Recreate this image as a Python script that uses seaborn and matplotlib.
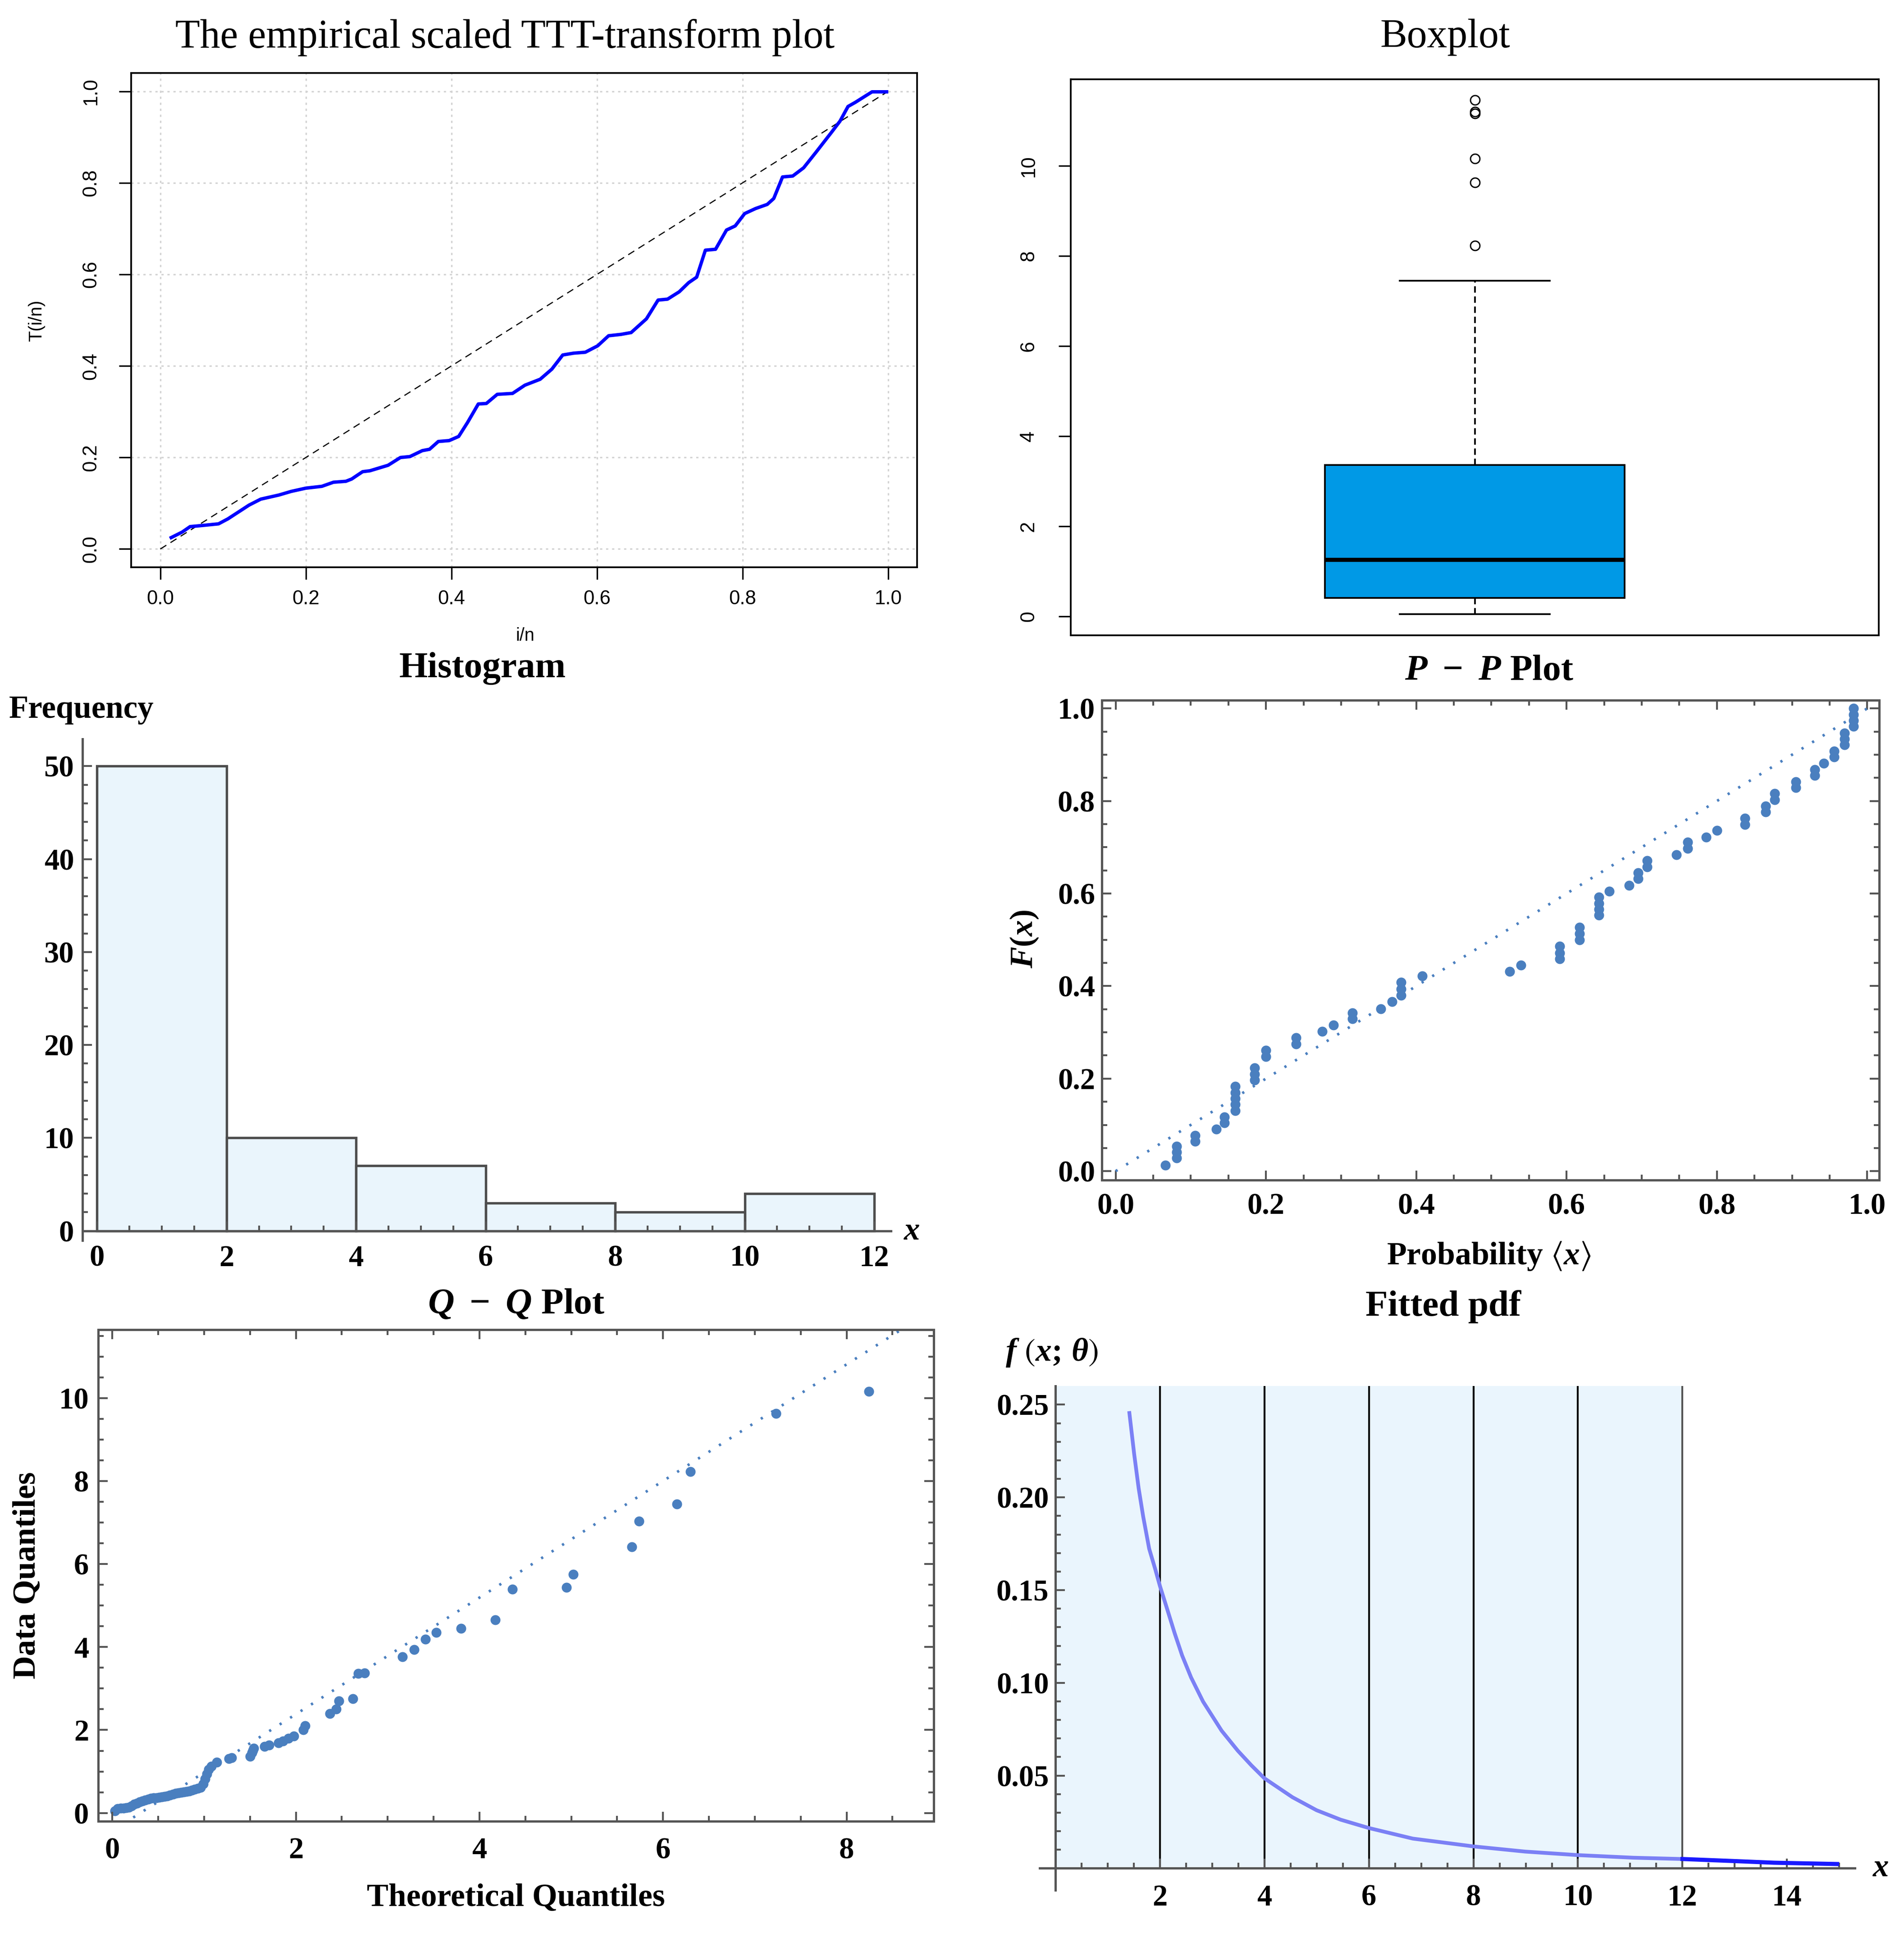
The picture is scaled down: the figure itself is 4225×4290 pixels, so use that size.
import numpy as np
import pandas as pd
import matplotlib
matplotlib.use("Agg")
import matplotlib.pyplot as plt
import seaborn as sns

# ---------------- data ----------------
# sorted sample (76 values) - drives histogram, boxplot and Q-Q data quantiles
sample = [0.055, 0.10, 0.11, 0.12, 0.13, 0.14, 0.17, 0.21, 0.24, 0.27,
          0.29, 0.31, 0.33, 0.35, 0.36, 0.37, 0.38, 0.39, 0.40, 0.41,
          0.43, 0.45, 0.47, 0.49, 0.50, 0.51, 0.52, 0.53, 0.55, 0.57,
          0.59, 0.62, 0.70, 0.82, 0.94, 1.05, 1.13, 1.22,
          1.31, 1.33, 1.36, 1.45, 1.51, 1.56, 1.60, 1.64, 1.69, 1.73, 1.80, 1.85,
          2.01, 2.10, 2.40, 2.51, 2.70, 2.76, 3.36, 3.37, 3.77, 3.94,
          4.19, 4.35, 4.45, 4.66, 5.39, 5.44, 5.75,
          6.42, 7.04, 7.45,
          8.23, 9.63,
          10.16, 11.16, 11.20, 11.46]

hist_bins = [0, 2, 4, 6, 8, 10, 12]

# Q-Q plot: theoretical quantiles for the first 73 sorted values
qq_theory = [0.03, 0.06, 0.09, 0.12, 0.15, 0.18, 0.21, 0.24, 0.27, 0.30,
             0.33, 0.36, 0.39, 0.42, 0.45, 0.48, 0.51, 0.54, 0.57, 0.60,
             0.63, 0.66, 0.69, 0.72, 0.75, 0.78, 0.81, 0.84, 0.87, 0.90,
             0.93, 0.96, 0.99, 1.01, 1.03, 1.05, 1.08, 1.14,
             1.27, 1.30, 1.50, 1.52, 1.53, 1.54, 1.66, 1.71, 1.81, 1.86, 1.92, 1.98,
             2.08, 2.10, 2.37, 2.44, 2.47, 2.62, 2.68, 2.75, 3.16, 3.29,
             3.41, 3.53, 3.80, 4.17, 4.36, 4.95, 5.02,
             5.66, 5.74, 6.15,
             6.30, 7.23,
             8.24]
qq_data = sample[:len(qq_theory)]
qq_ref_x = [0.0, 9.0]
qq_ref_y = [-0.43, 12.22]

# empirical scaled TTT transform
ttt_x = [0.015, 0.03, 0.041, 0.055, 0.08, 0.093, 0.122, 0.138, 0.163, 0.18,
         0.2, 0.222, 0.238, 0.255, 0.263, 0.278, 0.288, 0.313, 0.33, 0.343,
         0.36, 0.37, 0.382, 0.397, 0.41, 0.422, 0.437, 0.448, 0.463, 0.484,
         0.501, 0.522, 0.538, 0.553, 0.568, 0.584, 0.601, 0.616, 0.633, 0.647,
         0.668, 0.684, 0.697, 0.713, 0.726, 0.737, 0.749, 0.763, 0.778, 0.79,
         0.803, 0.818, 0.834, 0.843, 0.855, 0.869, 0.884, 0.901, 0.923, 0.934,
         0.945, 0.955, 0.978, 0.998]
ttt_y = [0.025, 0.037, 0.049, 0.051, 0.055, 0.066, 0.096, 0.109, 0.118, 0.126,
         0.133, 0.137, 0.146, 0.148, 0.153, 0.169, 0.171, 0.183, 0.2, 0.202,
         0.215, 0.218, 0.235, 0.237, 0.246, 0.276, 0.317, 0.318, 0.338, 0.34,
         0.358, 0.371, 0.393, 0.424, 0.428, 0.43, 0.444, 0.466, 0.469, 0.473,
         0.503, 0.544, 0.546, 0.562, 0.582, 0.594, 0.653, 0.655, 0.697, 0.706,
         0.733, 0.744, 0.753, 0.766, 0.813, 0.815, 0.833, 0.867, 0.912, 0.935,
         0.967, 0.976, 0.999, 0.999]
diag = [0.0, 1.0]

# P-P plot
pp_x = [0.066, 0.081, 0.081, 0.081, 0.106, 0.106, 0.134, 0.145, 0.145,
        0.159, 0.159, 0.159, 0.159, 0.159, 0.185, 0.185, 0.185, 0.200, 0.200,
        0.240, 0.240, 0.275, 0.290, 0.315, 0.315, 0.353, 0.368,
        0.380, 0.380, 0.380, 0.408, 0.524, 0.539, 0.591, 0.591, 0.591,
        0.617, 0.617, 0.617, 0.643, 0.643, 0.643, 0.643, 0.657, 0.683,
        0.695, 0.695, 0.707, 0.707, 0.746, 0.761, 0.761, 0.786, 0.800,
        0.837, 0.837, 0.865, 0.865, 0.877, 0.877, 0.905, 0.905, 0.930, 0.930,
        0.942, 0.956, 0.956, 0.970, 0.970, 0.970, 0.982, 0.982, 0.982, 0.982]
pp_y = [0.013, 0.028, 0.041, 0.054, 0.064, 0.077, 0.091, 0.104, 0.117,
        0.131, 0.144, 0.157, 0.170, 0.183, 0.197, 0.210, 0.223, 0.248, 0.261,
        0.275, 0.288, 0.302, 0.316, 0.329, 0.342, 0.351, 0.366,
        0.380, 0.394, 0.408, 0.422, 0.432, 0.445, 0.459, 0.472, 0.486,
        0.500, 0.513, 0.527, 0.553, 0.566, 0.579, 0.592, 0.605, 0.618,
        0.632, 0.645, 0.658, 0.671, 0.684, 0.697, 0.711, 0.722, 0.736,
        0.749, 0.763, 0.776, 0.789, 0.803, 0.816, 0.829, 0.842, 0.855, 0.868,
        0.882, 0.895, 0.908, 0.921, 0.934, 0.947, 0.961, 0.974, 0.987, 1.000]

# fitted pdf curve
pdf_x = [1.415, 1.507, 1.593, 1.679, 1.794, 1.908, 2.0, 2.138, 2.281, 2.424,
         2.596, 2.825, 3.18, 3.49, 3.75, 4.0, 4.537, 4.998, 5.459, 6.0, 6.84,
         8.0, 8.99, 10.0, 11.06, 12.0, 12.98, 13.75, 14.96]
pdf_y = [0.2455, 0.2233, 0.2048, 0.1897, 0.1723, 0.1615, 0.1522, 0.1398, 0.1268,
         0.1148, 0.1029, 0.0899, 0.0742, 0.0634, 0.0555, 0.0485, 0.0383, 0.0313,
         0.0262, 0.0217, 0.0160, 0.0118, 0.0090, 0.0071, 0.0057, 0.0050, 0.0039,
         0.0030, 0.0023]

# ---------------- style ----------------
plt.rcParams.update({
    'mathtext.fontset': 'custom',
    'mathtext.rm': 'Liberation Serif:bold',
    'mathtext.it': 'Liberation Serif:italic:bold',
    'mathtext.bf': 'Liberation Serif:bold',
    'mathtext.fallback': 'stix',
    'lines.scale_dashes': False,
})
SERIF = 'Liberation Serif'
SANS = 'Liberation Sans'
MGRAY = '#555555'
DOT = '#4a7fbf'
TICK_FS = 16
LAB_FS = 17.2
TITLE_FS = 19.5
R_TICK_FS = 10.5

fig = plt.figure(figsize=(4225 / 300, 4290 / 300), dpi=300)


def r_axis(ax, yticks, ylabels, pad_y):
    for s in ax.spines.values():
        s.set_color('black')
        s.set_linewidth(0.9)
    ax.set_yticks(yticks, labels=ylabels, fontfamily=SANS, fontsize=R_TICK_FS,
                  rotation=90, va='center')
    ax.tick_params(axis='both', direction='out', length=6.5, width=0.8)
    ax.tick_params(axis='y', pad=pad_y)


def mma_ticks(ax, xt, xl, yt, yl, xminor, yminor, xpad, ypad, frame=True):
    ax.set_xticks(xt, labels=xl, fontfamily=SERIF, fontweight='bold', fontsize=TICK_FS)
    ax.set_yticks(yt, labels=yl, fontfamily=SERIF, fontweight='bold', fontsize=TICK_FS)
    ax.set_xticks(xminor, minor=True)
    ax.set_yticks(yminor, minor=True)
    ax.tick_params(which='both', direction='in', color=MGRAY, width=1.0,
                   top=frame, right=frame)
    ax.tick_params(which='major', length=5)
    ax.tick_params(which='minor', length=2.8)
    ax.tick_params(axis='x', pad=xpad)
    ax.tick_params(axis='y', pad=ypad)
    for s in ax.spines.values():
        s.set_color(MGRAY)
        s.set_linewidth(1.2)


# ---- panel 1: TTT ----
ax1 = fig.add_axes([0.0689, 0.7065, 0.4128, 0.2557])
sns.lineplot(x=diag, y=diag, ax=ax1, color='black', linewidth=0.6,
             linestyle=(0, (3.8, 2.6)))
sns.lineplot(x=ttt_x, y=ttt_y, ax=ax1, color='blue', linewidth=1.8,
             estimator=None, sort=False)
ax1.set_xlim(-0.04, 1.04)
ax1.set_ylim(-0.04, 1.04)
t01 = [0.0, 0.2, 0.4, 0.6, 0.8, 1.0]
l01 = ['0.0', '0.2', '0.4', '0.6', '0.8', '1.0']
ax1.set_xticks(t01, labels=l01, fontfamily=SANS, fontsize=R_TICK_FS)
r_axis(ax1, t01, l01, pad_y=10)
ax1.tick_params(axis='x', pad=5.5)
ax1.grid(True, color='#d3d3d3', linestyle=(0, (1.2, 2.0)), linewidth=0.8)
ax1.set_axisbelow(True)
ax1.set_xlabel('')
ax1.set_ylabel('')
fig.text(0.2653, 0.9806, 'The empirical scaled TTT-transform plot', ha='center',
         va='center', fontfamily=SERIF, fontsize=21.5)
fig.text(0.2758, 0.671, 'i/n', ha='center', va='center', fontfamily=SANS, fontsize=9.5)
fig.text(0.0191, 0.834, 'T(i/n)', ha='center', va='center', rotation=90,
         fontfamily=SANS, fontsize=9.5)

# ---- panel 2: boxplot ----
ax2 = fig.add_axes([0.5624, 0.6713, 0.4244, 0.2876])
sns.boxplot(y=sample, ax=ax2, color='#0099E6', saturation=1, width=0.8, whis=1.5,
            linecolor='black', linewidth=0.9, fliersize=5,
            flierprops=dict(marker='o', markerfacecolor='none',
                            markeredgecolor='black', markeredgewidth=0.7),
            medianprops=dict(linewidth=2.2, color='black'),
            whiskerprops=dict(linestyle=(0, (3.4, 2.0))))
ax2.set_xlim(-1.078, 1.078)
ax2.set_ylim(-0.42, 11.92)
ax2.set_xticks([])
r_axis(ax2, [0, 2, 4, 6, 8, 10], ['0', '2', '4', '6', '8', '10'], pad_y=11)
ax2.set_ylabel('')
fig.text(0.7589, 0.9806, 'Boxplot', ha='center', va='center', fontfamily=SERIF,
         fontsize=21.5)

# ---- panel 3: histogram ----
ax3 = fig.add_axes([0.0433, 0.3583, 0.4247, 0.2593])
sns.histplot(x=sample, bins=hist_bins, ax=ax3, color='#EAF5FC', edgecolor='#4d4d4d',
             linewidth=1.3, alpha=1)
ax3.set_xlim(-0.2255, 12.26)
ax3.set_ylim(-1.03, 52.9)
ax3.spines['top'].set_visible(False)
ax3.spines['right'].set_visible(False)
ax3.spines['bottom'].set_position(('data', 0))
mma_ticks(ax3, [0, 2, 4, 6, 8, 10, 12], ['0', '2', '4', '6', '8', '10', '12'],
          [0, 10, 20, 30, 40, 50], ['0', '10', '20', '30', '40', '50'],
          np.arange(0, 12.01, 0.5), np.arange(0, 52, 2), xpad=7.5, ypad=4.5,
          frame=False)
ax3.set_xlabel('')
ax3.set_ylabel('')
fig.text(0.2535, 0.6543, 'Histogram', ha='center', va='center', fontfamily=SERIF,
         fontweight='bold', fontsize=TITLE_FS)
fig.text(0.0047, 0.6327, 'Frequency', ha='left', va='center', fontfamily=SERIF,
         fontweight='bold', fontsize=17)
fig.text(0.479, 0.3633, '$x$', ha='center', va='center', fontsize=17)

# ---- panel 4: P-P plot ----
ax4 = fig.add_axes([0.5786, 0.3896, 0.4084, 0.2481])
sns.lineplot(x=diag, y=diag, ax=ax4, color=DOT, linewidth=1.4,
             linestyle=(0, (1.2, 5.4)))
sns.scatterplot(x=pp_x, y=pp_y, ax=ax4, color=DOT, s=28, linewidth=0)
ax4.set_xlim(-0.0186, 1.016)
ax4.set_ylim(-0.0189, 1.0176)
mma_ticks(ax4, t01, l01, t01, l01, np.arange(0, 1.001, 0.05),
          np.arange(0, 1.001, 0.05), xpad=7, ypad=3.5)
fig.text(0.782, 0.6527, '$P\ -\ P$ Plot', ha='center', va='center', fontfamily=SERIF,
         fontweight='bold', fontsize=TITLE_FS)
fig.text(0.782, 0.3503, r'Probability $\langle x\rangle$', ha='center', va='center',
         fontfamily=SERIF, fontweight='bold', fontsize=LAB_FS)
fig.text(0.538, 0.5142, '$F(x)$', ha='center', va='center', rotation=90,
         fontsize=LAB_FS)

# ---- panel 5: Q-Q plot ----
ax5 = fig.add_axes([0.0516, 0.0578, 0.4387, 0.2543])
sns.lineplot(x=qq_ref_x, y=qq_ref_y, ax=ax5, color=DOT, linewidth=1.4,
             linestyle=(0, (1.2, 5.4)))
sns.scatterplot(x=qq_theory, y=qq_data, ax=ax5, color=DOT, s=28, linewidth=0)
ax5.set_xlim(-0.153, 8.947)
ax5.set_ylim(-0.2, 11.65)
mma_ticks(ax5, [0, 2, 4, 6, 8], ['0', '2', '4', '6', '8'],
          [0, 2, 4, 6, 8, 10], ['0', '2', '4', '6', '8', '10'],
          np.arange(0, 8.9, 0.5), np.arange(0, 11.6, 0.5), xpad=8.5, ypad=5)
fig.text(0.271, 0.325, '$Q\ -\ Q$ Plot', ha='center', va='center', fontfamily=SERIF,
         fontweight='bold', fontsize=TITLE_FS)
fig.text(0.271, 0.018, 'Theoretical Quantiles', ha='center', va='center',
         fontfamily=SERIF, fontweight='bold', fontsize=LAB_FS)
fig.text(0.0143, 0.185, 'Data Quantiles', ha='center', va='center', rotation=90,
         fontfamily=SERIF, fontweight='bold', fontsize=LAB_FS)

# ---- panel 6: fitted pdf ----
ax6 = fig.add_axes([0.5461, 0.0222, 0.4281, 0.2608])
ax6.set_xlim(-0.30, 15.3)
ax6.set_ylim(-0.01176, 0.2601)
ax6.fill_between([hist_bins[0], hist_bins[-1]], 0, 0.2601, color='#EAF5FD',
                 linewidth=0, zorder=0)
ax6.vlines(hist_bins[1:-1], 0, 0.2601, color='black', linewidth=1.0, zorder=1)
ax6.vlines(hist_bins[-1:], 0, 0.2601, color=MGRAY, linewidth=1.0, zorder=1)
pdf = pd.DataFrame({'x': pdf_x, 'y': pdf_y})
inner = pdf[pdf.x <= 12]
outer = pdf[pdf.x >= 12]
sns.lineplot(data=inner, x='x', y='y', ax=ax6, color='#7b80f5', linewidth=2.0,
             estimator=None, sort=False)
sns.lineplot(data=outer, x='x', y='y', ax=ax6, color='#1a1aff', linewidth=2.2,
             estimator=None, sort=False)
ax6.spines['top'].set_visible(False)
ax6.spines['right'].set_visible(False)
ax6.spines['bottom'].set_position(('data', 0))
ax6.spines['left'].set_position(('data', 0))
mma_ticks(ax6, [2, 4, 6, 8, 10, 12, 14], ['2', '4', '6', '8', '10', '12', '14'],
          [0.05, 0.10, 0.15, 0.20, 0.25], ['0.05', '0.10', '0.15', '0.20', '0.25'],
          np.arange(0.5, 15.01, 0.5), np.arange(0.01, 0.255, 0.01), xpad=8.5,
          ypad=3.5, frame=False)
ax6.set_xlabel('')
ax6.set_ylabel('')
fig.text(0.7581, 0.324, 'Fitted pdf', ha='center', va='center', fontfamily=SERIF,
         fontweight='bold', fontsize=TITLE_FS)
fig.text(0.5524, 0.3003, r'$f\ \left(x;\,\theta\right)$', ha='center', va='center',
         fontsize=LAB_FS)
fig.text(0.9877, 0.034, '$x$', ha='center', va='center', fontsize=17)

fig.savefig('out.png', dpi=300)
